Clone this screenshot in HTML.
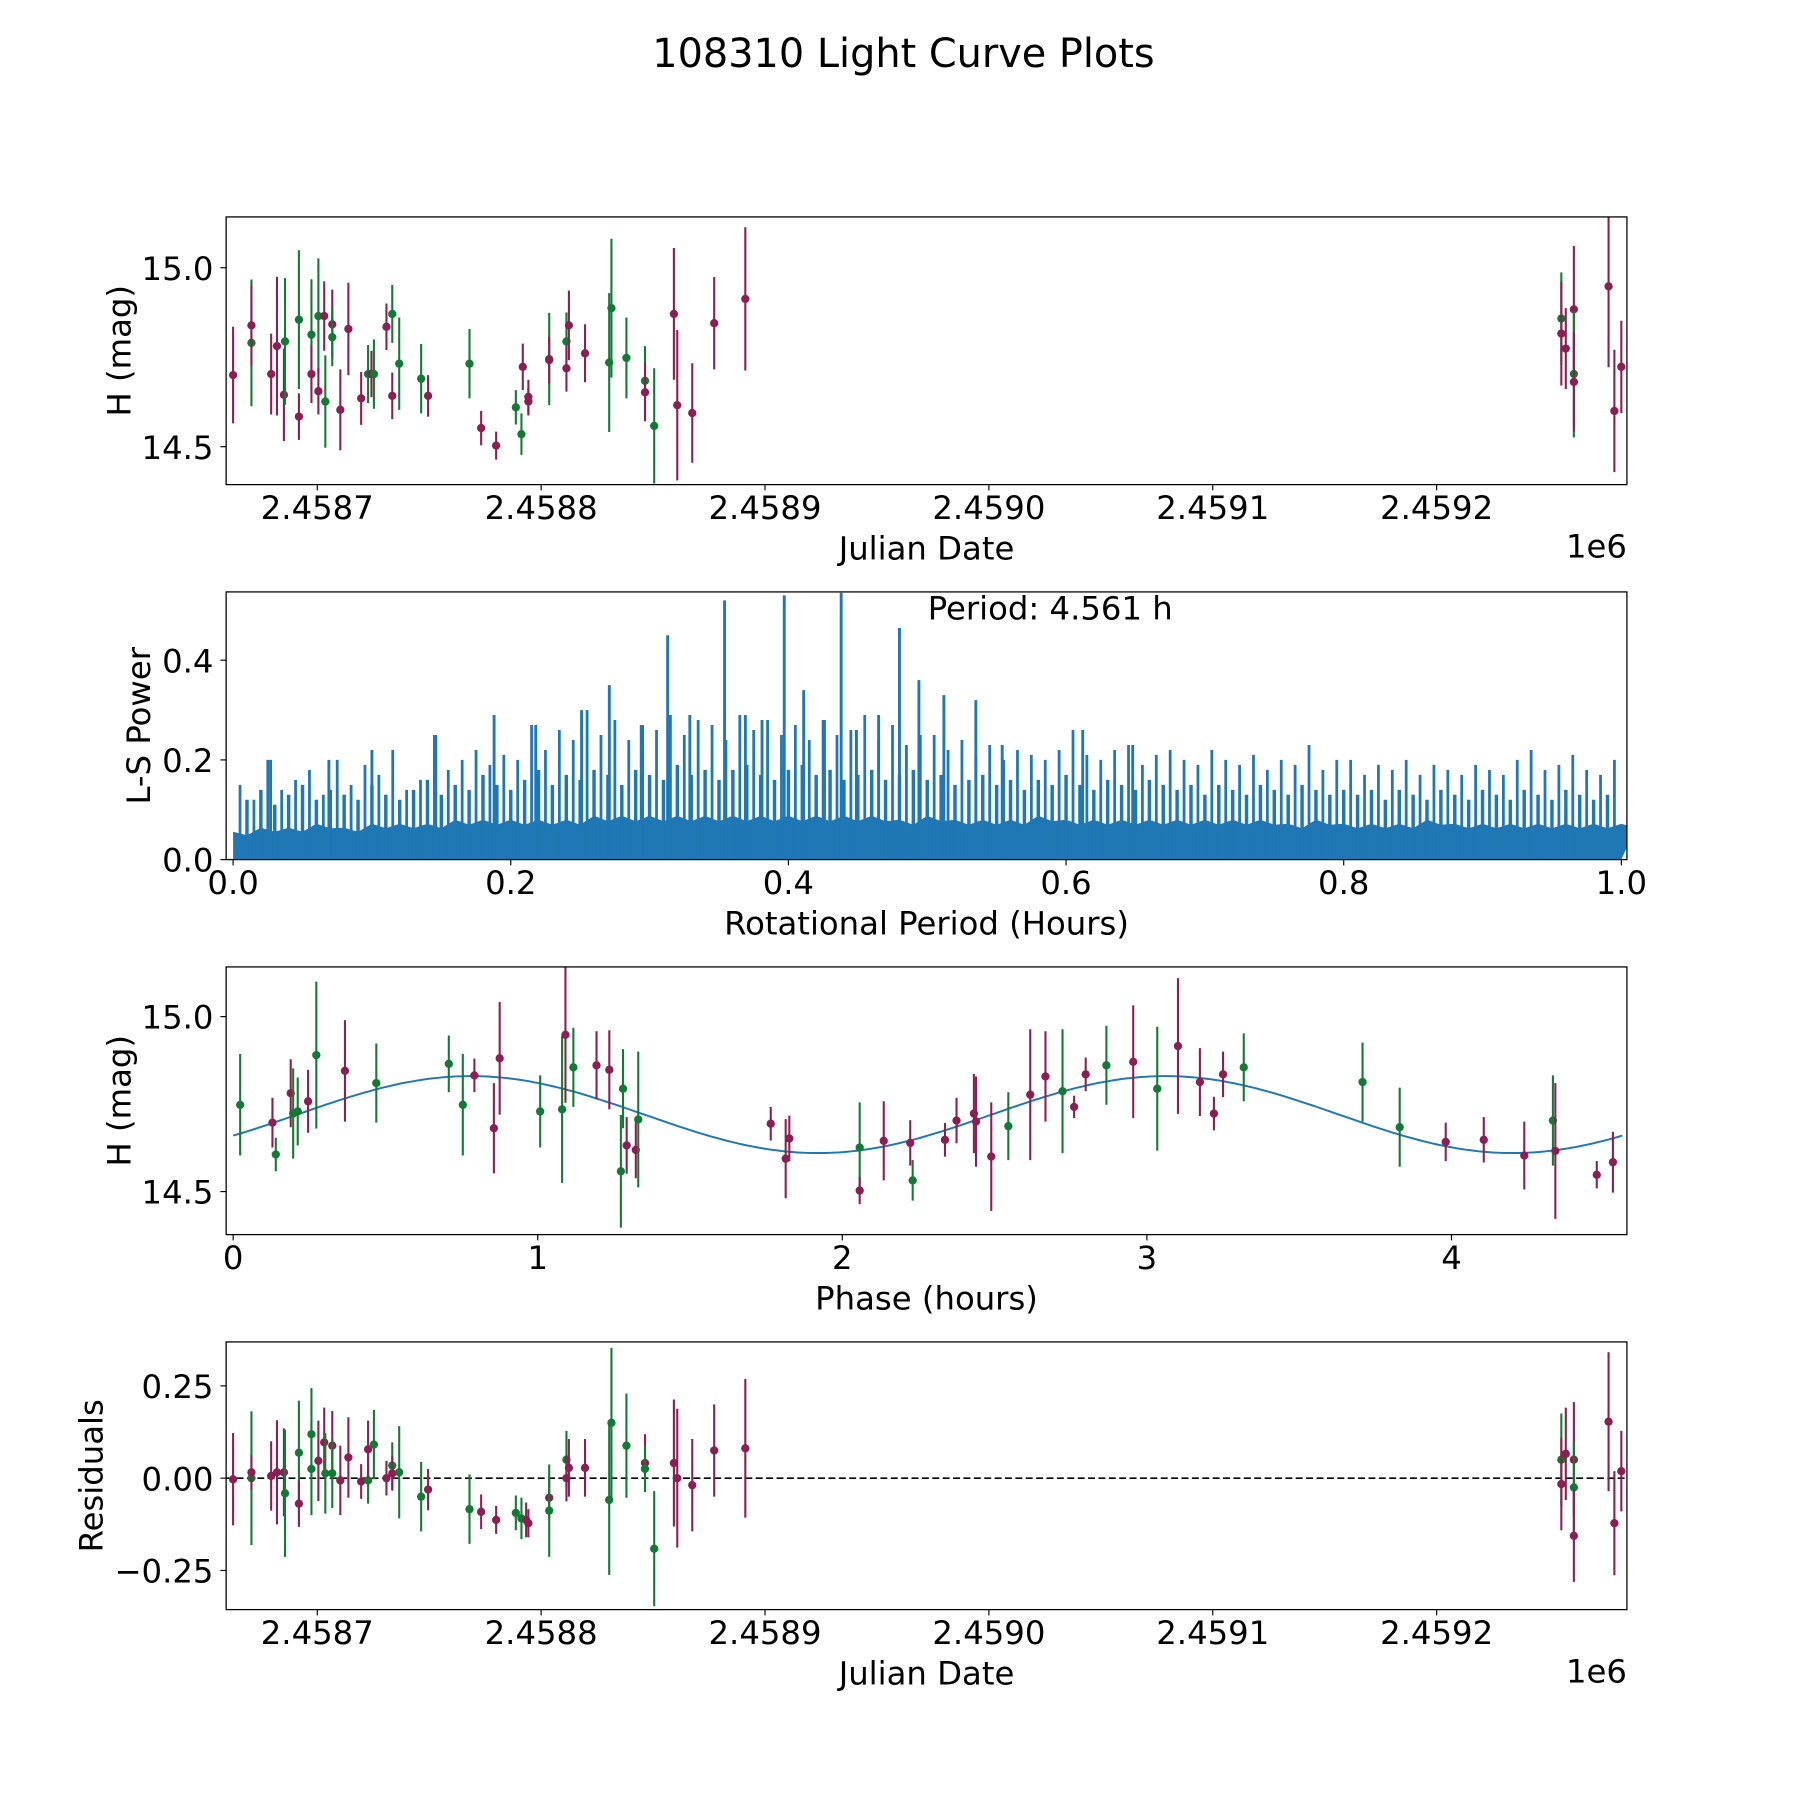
<!DOCTYPE html>
<html><head><meta charset="utf-8"><title>108310 Light Curve Plots</title>
<style>html,body{margin:0;padding:0;background:#fff}svg{display:block}text{font-family:"DejaVu Sans","Liberation Sans",sans-serif;fill:#000}</style>
</head><body>
<svg id="fig" xmlns="http://www.w3.org/2000/svg" width="1800" height="1800" viewBox="0 0 1560 1560">
<rect width="1560" height="1560" fill="#fff"/>
<text x="783" y="58" font-size="34.5" text-anchor="middle">108310 Light Curve Plots</text>
</svg>
<script>
// ---- Panel 1 data: light curve ----
const lcJD=[2458662.4,2458670.6,2458670.6,2458679.4,2458682.0,2458685.1,2458685.6,2458691.8,2458691.8,2458697.4,2458697.4,2458700.5,2458700.5,2458703.1,2458703.6,2458706.7,2458706.7,2458710.3,2458713.9,2458719.6,2458722.7,2458724.2,2458725.3,2458730.9,2458733.5,2458733.5,2458736.6,2458746.4,2458749.5,2458768.0,2458773.2,2458779.9,2458788.7,2458791.2,2458791.8,2458794.3,2458794.3,2458803.6,2458803.6,2458811.3,2458811.3,2458812.4,2458819.6,2458830.4,2458831.4,2458838.1,2458846.4,2458846.4,2458850.5,2458859.3,2458860.8,2458867.5,2458877.3,2458891.2,2459255.7,2459255.7,2459257.7,2459261.3,2459261.3,2459261.3,2459276.8,2459279.4,2459282.5];
const lcMag=[14.700,14.790,14.839,14.703,14.781,14.645,14.794,14.855,14.584,14.813,14.703,14.865,14.655,14.865,14.626,14.842,14.806,14.603,14.829,14.635,14.703,14.703,14.703,14.835,14.871,14.642,14.732,14.690,14.642,14.732,14.552,14.503,14.610,14.535,14.723,14.639,14.626,14.745,14.742,14.794,14.719,14.839,14.761,14.735,14.887,14.748,14.684,14.652,14.558,14.871,14.616,14.594,14.845,14.913,14.858,14.816,14.774,14.884,14.703,14.681,14.948,14.600,14.723];
const lcErr=[0.135,0.177,0.113,0.113,0.194,0.129,0.177,0.194,0.065,0.155,0.081,0.161,0.065,0.097,0.129,0.097,0.081,0.113,0.129,0.074,0.081,0.065,0.097,0.065,0.081,0.065,0.129,0.097,0.058,0.097,0.048,0.039,0.048,0.058,0.065,0.048,0.039,0.129,0.065,0.081,0.065,0.097,0.081,0.194,0.194,0.113,0.097,0.081,0.161,0.184,0.210,0.139,0.129,0.200,0.129,0.145,0.113,0.177,0.177,0.139,0.226,0.171,0.129];
const lcBand=['m','g','m','m','m','m','g','g','m','g','m','g','m','m','g','m','g','m','m','m','g','m','g','m','g','m','g','g','m','g','m','m','g','g','m','m','m','g','m','g','m','m','m','g','g','g','g','m','g','m','m','m','m','m','g','m','m','m','g','m','m','m','m'];
// ---- Panel 2 data: periodogram ----
const bgPeriod=[0.005,0.015,0.025,0.035,0.045,0.055,0.065,0.075,0.085,0.095,0.105,0.115,0.125,0.135,0.145,0.155,0.165,0.175,0.185,0.195,0.205,0.215,0.225,0.235,0.245,0.255,0.265,0.275,0.285,0.295,0.305,0.315,0.325,0.335,0.345,0.355,0.365,0.375,0.385,0.395,0.405,0.415,0.425,0.435,0.445,0.455,0.465,0.475,0.485,0.495,0.505,0.515,0.525,0.535,0.545,0.555,0.565,0.575,0.585,0.595,0.605,0.615,0.625,0.635,0.645,0.655,0.665,0.675,0.685,0.695,0.705,0.715,0.725,0.735,0.745,0.755,0.765,0.775,0.785,0.795,0.805,0.815,0.825,0.835,0.845,0.855,0.865,0.875,0.885,0.895,0.905,0.915,0.925,0.935,0.945,0.955,0.965,0.975,0.985,0.995];
const bgPower=[0.15,0.12,0.20,0.14,0.16,0.18,0.13,0.20,0.15,0.19,0.17,0.22,0.14,0.16,0.25,0.18,0.20,0.22,0.19,0.21,0.20,0.27,0.22,0.26,0.24,0.30,0.25,0.28,0.24,0.27,0.26,0.29,0.25,0.28,0.27,0.24,0.29,0.26,0.28,0.25,0.27,0.24,0.28,0.25,0.26,0.29,0.24,0.27,0.23,0.25,0.25,0.22,0.24,0.21,0.23,0.20,0.22,0.21,0.20,0.22,0.26,0.21,0.20,0.22,0.23,0.19,0.21,0.22,0.20,0.19,0.22,0.20,0.19,0.21,0.18,0.20,0.19,0.23,0.18,0.20,0.20,0.17,0.19,0.18,0.20,0.17,0.19,0.18,0.17,0.19,0.18,0.17,0.20,0.22,0.18,0.19,0.21,0.18,0.17,0.20];
const midPeriod=[0.010,0.020,0.030,0.040,0.050,0.060,0.070,0.080,0.090,0.100,0.110,0.120,0.130,0.140,0.150,0.160,0.170,0.180,0.190,0.200,0.210,0.220,0.230,0.240,0.250,0.260,0.270,0.280,0.290,0.300,0.310,0.320,0.330,0.340,0.350,0.360,0.370,0.380,0.390,0.400,0.410,0.420,0.430,0.440,0.450,0.460,0.470,0.480,0.490,0.500,0.510,0.520,0.530,0.540,0.550,0.560,0.570,0.580,0.590,0.600,0.610,0.620,0.630,0.640,0.650,0.660,0.670,0.680,0.690,0.700,0.710,0.720,0.730,0.740,0.750,0.760,0.770,0.780,0.790,0.800,0.810,0.820,0.830,0.840,0.850,0.860,0.870,0.880,0.890,0.900,0.910,0.920,0.930,0.940,0.950,0.960,0.970,0.980,0.990];
const midPower=[0.12,0.14,0.11,0.13,0.15,0.12,0.14,0.13,0.12,0.15,0.13,0.12,0.14,0.16,0.13,0.15,0.14,0.17,0.15,0.14,0.16,0.18,0.15,0.17,0.16,0.18,0.17,0.15,0.18,0.17,0.16,0.19,0.17,0.18,0.16,0.18,0.19,0.17,0.16,0.18,0.19,0.17,0.18,0.16,0.17,0.18,0.16,0.17,0.18,0.16,0.17,0.15,0.16,0.17,0.15,0.16,0.14,0.16,0.15,0.17,0.15,0.14,0.16,0.15,0.14,0.16,0.15,0.14,0.15,0.13,0.15,0.14,0.13,0.15,0.14,0.13,0.15,0.14,0.13,0.14,0.13,0.14,0.12,0.14,0.13,0.12,0.14,0.13,0.12,0.14,0.13,0.12,0.14,0.13,0.12,0.14,0.13,0.12,0.13];
const peakPeriod=[0.027,0.069,0.100,0.146,0.188,0.218,0.251,0.271,0.294,0.313,0.329,0.354,0.369,0.381,0.397,0.411,0.426,0.438,0.449,0.465,0.480,0.494,0.512,0.535,0.554,0.612,0.648];
const peakPower=[0.20,0.20,0.22,0.25,0.29,0.27,0.30,0.35,0.27,0.45,0.29,0.52,0.29,0.28,0.53,0.34,0.28,0.535,0.26,0.29,0.465,0.36,0.33,0.32,0.23,0.26,0.23];
const floorPower=[0.07,0.08,0.08,0.09,0.08,0.09,0.09,0.09,0.10,0.10,0.10,0.10,0.10,0.11,0.11,0.11,0.11,0.11,0.11,0.11,0.11,0.11,0.11,0.11,0.10,0.11,0.10,0.10,0.10,0.11,0.10,0.10,0.10,0.10,0.10,0.10,0.10,0.10,0.09,0.10,0.09,0.09,0.09,0.10,0.09,0.09,0.09,0.09,0.09,0.09,0.09];
const periodText=['Period: 4.561 h'];
// ---- Panel 3 data: phased curve ----
const phHours=[0.023,0.129,0.140,0.189,0.197,0.212,0.246,0.273,0.367,0.470,0.708,0.754,0.792,0.856,0.875,1.008,1.080,1.091,1.117,1.193,1.235,1.273,1.280,1.292,1.322,1.330,1.765,1.814,1.826,2.057,2.057,2.136,2.223,2.231,2.337,2.375,2.432,2.439,2.489,2.545,2.617,2.667,2.723,2.761,2.799,2.867,2.955,3.034,3.102,3.174,3.220,3.250,3.318,3.708,3.830,3.981,4.106,4.239,4.333,4.341,4.477,4.530];
const phMag=[14.748,14.697,14.606,14.781,14.723,14.729,14.758,14.890,14.845,14.810,14.865,14.748,14.832,14.681,14.881,14.729,14.735,14.948,14.855,14.861,14.848,14.558,14.794,14.632,14.619,14.706,14.694,14.594,14.652,14.626,14.503,14.645,14.639,14.532,14.648,14.703,14.723,14.700,14.600,14.687,14.777,14.829,14.787,14.742,14.835,14.861,14.871,14.794,14.916,14.813,14.723,14.835,14.855,14.813,14.684,14.642,14.648,14.603,14.703,14.616,14.548,14.584];
const phErr=[0.145,0.071,0.048,0.097,0.129,0.097,0.090,0.210,0.145,0.113,0.081,0.145,0.048,0.129,0.161,0.103,0.210,0.194,0.113,0.097,0.113,0.161,0.113,0.081,0.081,0.194,0.048,0.113,0.065,0.129,0.039,0.113,0.065,0.058,0.048,0.065,0.113,0.129,0.155,0.097,0.187,0.129,0.177,0.032,0.048,0.113,0.161,0.177,0.194,0.097,0.048,0.065,0.097,0.113,0.113,0.055,0.065,0.097,0.129,0.194,0.039,0.087];
const phBand=['g','m','g','m','g','g','m','g','m','g','g','g','m','m','m','g','g','m','g','m','m','g','g','m','m','g','m','m','m','g','m','m','m','g','m','m','m','m','m','g','m','m','g','m','m','g','m','g','m','m','m','m','g','g','g','m','m','m','g','m','m','m'];
const fitMean=[14.72], fitAmp=[0.11], fitPeriod=[2.2805], fitPeak=[0.78];
// ---- Panel 4 data: residuals ----
const resJD=[2458662.4,2458670.6,2458670.6,2458679.4,2458682.0,2458685.1,2458685.6,2458691.8,2458691.8,2458697.4,2458697.4,2458700.5,2458703.1,2458703.6,2458706.7,2458706.7,2458710.3,2458713.9,2458719.6,2458722.7,2458722.7,2458725.3,2458730.9,2458733.5,2458733.5,2458736.6,2458746.4,2458749.5,2458768.0,2458773.2,2458779.9,2458788.7,2458791.2,2458793.3,2458794.3,2458803.6,2458803.6,2458811.3,2458811.3,2458812.4,2458819.6,2458830.4,2458831.4,2458838.1,2458846.4,2458846.4,2458850.5,2458859.3,2458860.8,2458867.5,2458877.3,2458891.2,2459255.7,2459255.7,2459257.7,2459261.3,2459261.3,2459261.3,2459276.8,2459279.4,2459282.5];
const resVal=[-0.003,0.000,0.016,0.006,0.016,0.016,-0.041,0.069,-0.069,0.025,0.119,0.047,0.097,0.013,0.088,0.013,-0.006,0.056,-0.009,-0.006,0.078,0.091,0.000,0.034,0.013,0.016,-0.050,-0.031,-0.084,-0.091,-0.113,-0.094,-0.109,-0.113,-0.122,-0.053,-0.088,0.050,0.000,0.028,0.028,-0.059,0.150,0.088,0.041,0.025,-0.191,0.041,0.000,-0.019,0.075,0.081,0.050,-0.016,0.066,0.050,-0.025,-0.156,0.153,-0.122,0.019];
const resErr=[0.125,0.181,0.047,0.094,0.141,0.119,0.172,0.141,0.063,0.125,0.125,0.109,0.094,0.109,0.094,0.094,0.094,0.109,0.047,0.063,0.078,0.094,0.047,0.063,0.047,0.125,0.094,0.056,0.094,0.047,0.038,0.047,0.056,0.047,0.038,0.056,0.125,0.078,0.063,0.078,0.078,0.203,0.203,0.141,0.078,0.063,0.156,0.172,0.188,0.125,0.125,0.188,0.125,0.125,0.125,0.156,0.125,0.125,0.188,0.141,0.109];
const resBand=['m','g','m','m','m','m','g','g','m','g','g','m','m','g','m','g','m','m','m','g','m','g','m','g','m','g','g','m','g','m','m','g','g','m','m','m','g','g','m','m','m','g','g','g','m','g','g','m','m','m','m','m','g','m','m','m','g','m','m','m','m'];
const jdTicks=[2458700,2458800,2458900,2459000,2459100,2459200];
const jdTickLabels=['2.4587','2.4588','2.4589','2.4590','2.4591','2.4592'];

const NS='http://www.w3.org/2000/svg';
const svg=document.getElementById('fig');
const COL={m:'#8b1e52',g:'#137a34'};
const FS=28;
function mk(tag,attrs,parent){const e=document.createElementNS(NS,tag);for(const k in attrs)e.setAttribute(k,attrs[k]);(parent||svg).appendChild(e);return e;}
function lin(d0,d1,r0,r1){return v=>r0+(v-d0)*(r1-r0)/(d1-d0);}

function makePanel(name,box,xd,yd){
  const g=mk('g',{});
  
  
  return {g,box,x:lin(xd[0],xd[1],box.x0,box.x1),y:lin(yd[0],yd[1],box.y1,box.y0)};
}
function frame(p){
  const r=mk('rect',{x:p.box.x0,y:p.box.y0,width:p.box.x1-p.box.x0,height:p.box.y1-p.box.y0,fill:'none',stroke:'#000','stroke-width':1.1},p.g);
  
  
}
function xTicks(p,vals,labels,axisName){
  const g=mk('g',{},p.g);
  
  
  vals.forEach((v,i)=>{const X=p.x(v);
    mk('line',{x1:X,x2:X,y1:p.box.y1,y2:p.box.y1+5,stroke:'#000','stroke-width':1},g);
    const t=mk('text',{x:X,y:p.box.y1+30,'font-size':FS,'text-anchor':'middle'},g);
    
    
    t.textContent=labels[i];});
}
function yTicks(p,vals,labels,axisName){
  const g=mk('g',{},p.g);
  
  
  vals.forEach((v,i)=>{const Y=p.y(v);
    mk('line',{x1:p.box.x0-5,x2:p.box.x0,y1:Y,y2:Y,stroke:'#000','stroke-width':1},g);
    const t=mk('text',{x:p.box.x0-11,y:Y+10.5,'font-size':FS,'text-anchor':'end'},g);
    
    
    t.textContent=labels[i];});
}
function label(p,txt,x,y,name,rot,anchor){
  const t=mk('text',{x,y,'font-size':FS,'text-anchor':anchor||'middle'},p.g);
  if(rot)t.setAttribute('transform','rotate(-90 '+x+' '+y+')');
  
  
  t.textContent=txt;
}
function errPoints(p,xs,ys,es,bands,nm){
  const g=mk('g',{},p.g);
  
  
  xs.forEach((xv,i)=>{const X=p.x(xv),c=COL[bands[i]];
    const l=mk('line',{x1:X,x2:X,y1:p.y(ys[i]-es[i]),y2:p.y(ys[i]+es[i]),stroke:c,'stroke-width':1.8},g);
    
    
    const d=mk('circle',{cx:X,cy:p.y(ys[i]),r:3.6,fill:c},g);
    
    });
}
const clip=(id,b)=>{const cp=mk('clipPath',{id});mk('rect',{x:b.x0,y:b.y0,width:b.x1-b.x0,height:b.y1-b.y0},cp);};

// Panel 1
const b1={x0:196,x1:1410,y0:188,y1:420};
const p1=makePanel('light-curve-panel',b1,[2458659.3,2459285],[14.394,15.142]);
clip('c1',b1);
const g1=mk('g',{'clip-path':'url(#c1)'},p1.g);
errPoints({g:g1,x:p1.x,y:p1.y},lcJD,lcMag,lcErr,lcBand,'light-curve-points');
frame(p1);
xTicks(p1,jdTicks,jdTickLabels,'x-axis');
yTicks(p1,[14.5,15.0],['14.5','15.0'],'y-axis');
label(p1,'Julian Date',803,485,'x-axis-title');
label(p1,'1e6',1410,483,'x-offset-label',false,'end');
label(p1,'H (mag)',113,304,'y-axis-title',true);

// Panel 2
const b2={x0:196,x1:1410,y0:513,y1:745};
const p2=makePanel('periodogram-panel',b2,[-0.005,1.004],[0,0.537]);
clip('c2',b2);
const g2=mk('g',{'clip-path':'url(#c2)'},p2.g);


let fp='M'+p2.x(0)+','+p2.y(0);
floorPower.forEach((v,i)=>{const per=i/(floorPower.length-1);fp+=' L'+p2.x(per)+','+p2.y(v*0.8)+' L'+p2.x(per+0.5/(floorPower.length-1))+','+p2.y(v*0.7);});
fp+=' L'+p2.x(1)+','+p2.y(0)+' Z';
mk('path',{d:fp,fill:'#1f77b4'},g2);
midPeriod.forEach((per,i)=>{const l=mk('line',{x1:p2.x(per),x2:p2.x(per),y1:p2.y(0),y2:p2.y(midPower[i]),stroke:'#1f77b4','stroke-width':3},g2);
  
  });
bgPeriod.forEach((per,i)=>{const l=mk('line',{x1:p2.x(per),x2:p2.x(per),y1:p2.y(0),y2:p2.y(bgPower[i]),stroke:'#1f77b4','stroke-width':2.4},g2);
  
  });
peakPeriod.forEach((per,i)=>{const l=mk('line',{x1:p2.x(per),x2:p2.x(per),y1:p2.y(0),y2:p2.y(peakPower[i]),stroke:'#1f77b4','stroke-width':2.5},g2);
  
  });
frame(p2);
xTicks(p2,[0,0.2,0.4,0.6,0.8,1.0],['0.0','0.2','0.4','0.6','0.8','1.0'],'x-axis');
yTicks(p2,[0,0.2,0.4],['0.0','0.2','0.4'],'y-axis');
label(p2,'Rotational Period (Hours)',803,810,'x-axis-title');
label(p2,'L-S Power',130,629,'y-axis-title',true);
label(p2,periodText[0],804,537,'period-annotation',false,'start');

// Panel 3
const b3={x0:196,x1:1410,y0:838,y1:1070};
const p3=makePanel('phased-curve-panel',b3,[-0.023,4.576],[14.377,15.142]);
clip('c3',b3);
const g3=mk('g',{'clip-path':'url(#c3)'},p3.g);
let fd='';
for(let k=0;k<=300;k++){const ph=4.561*k/300;const h=fitMean[0]+fitAmp[0]*Math.cos(2*Math.PI*(ph-fitPeak[0])/fitPeriod[0]);fd+=(k?' L':'M')+p3.x(ph).toFixed(1)+','+p3.y(h).toFixed(1);}
const fl=mk('path',{d:fd,fill:'none',stroke:'#1f77b4','stroke-width':1.7},g3);


errPoints({g:g3,x:p3.x,y:p3.y},phHours,phMag,phErr,phBand,'phased-points');
frame(p3);
xTicks(p3,[0,1,2,3,4],['0','1','2','3','4'],'x-axis');
yTicks(p3,[14.5,15.0],['14.5','15.0'],'y-axis');
label(p3,'Phase (hours)',803,1135,'x-axis-title');
label(p3,'H (mag)',113,954,'y-axis-title',true);

// Panel 4
const b4={x0:196,x1:1410,y0:1163,y1:1395};
const p4=makePanel('residuals-panel',b4,[2458659.3,2459285],[-0.356,0.369]);
clip('c4',b4);
const g4=mk('g',{'clip-path':'url(#c4)'},p4.g);
const zl=mk('line',{x1:b4.x0,x2:b4.x1,y1:p4.y(0),y2:p4.y(0),stroke:'#000','stroke-width':1.4,'stroke-dasharray':'6,3'},g4);


errPoints({g:g4,x:p4.x,y:p4.y},resJD,resVal,resErr,resBand,'residual-points');
frame(p4);
xTicks(p4,jdTicks,jdTickLabels,'x-axis');
yTicks(p4,[-0.25,0,0.25],['\u22120.25','0.00','0.25'],'y-axis');
label(p4,'Julian Date',803,1460,'x-axis-title');
label(p4,'1e6',1410,1458,'x-offset-label',false,'end');
label(p4,'Residuals',89,1279,'y-axis-title',true);
</script>
</body></html>
